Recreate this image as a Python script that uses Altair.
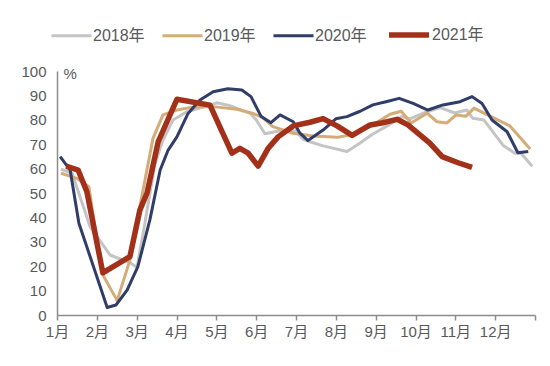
import altair as alt
import pandas as pd

years = ["2018年", "2019年", "2020年", "2021年"]
colors = ["#C4C4C4", "#D4AC78", "#2F3D68", "#A3311A"]
widths = [3, 3, 3, 5.5]
month_labels = ["1月", "2月", "3月", "4月", "5月", "6月", "7月", "8月", "9月", "10月", "11月", "12月"]

# x positions in months since 1 Jan (0 = 1月 tick), values in %
x2018 = [0.10, 0.38, 0.83, 1.33, 1.83, 2.01, 2.21, 2.46, 2.66, 2.91, 3.26, 3.84, 4.02, 4.34, 4.85, 5.00,
         5.22, 5.60, 5.98, 6.18, 6.35, 6.68, 7.28, 7.61, 7.91, 8.29, 8.64, 8.86, 9.24, 9.62, 9.99, 10.29,
         10.44, 10.72, 11.20, 11.50, 11.65, 11.93]
v2018 = [59.8, 58.1, 36.2, 24.6, 21.5, 19.5, 38.0, 62.0, 71.7, 79.9, 83.3, 86.0, 87.0, 85.8, 82.6, 80.0,
         74.3, 75.5, 75.5, 72.0, 71.0, 69.3, 67.0, 70.5, 74.0, 77.5, 81.3, 80.4, 83.0, 85.0, 82.8, 84.0,
         80.6, 79.9, 69.5, 66.3, 66.3, 61.0]

x2019 = [0.10, 0.50, 0.80, 1.13, 1.51, 1.83, 2.08, 2.41, 2.66, 3.01, 3.41, 3.92, 4.52, 4.92, 5.15, 5.42,
         5.93, 6.43, 7.03, 7.36, 7.86, 8.36, 8.64, 8.89, 9.29, 9.54, 9.79, 10.02, 10.27, 10.47, 10.87,
         11.37, 11.88]
v2019 = [58.1, 56.0, 52.6, 17.1, 5.9, 22.5, 44.4, 72.4, 82.0, 84.0, 85.2, 85.4, 84.3, 82.6, 81.0, 77.2,
         74.5, 73.4, 72.8, 73.8, 77.2, 82.3, 83.5, 78.7, 82.7, 79.2, 78.7, 82.0, 81.5, 84.8, 81.5,
         77.5, 68.0]

x2020 = [0.08, 0.33, 0.55, 1.26, 1.48, 1.76, 2.03, 2.33, 2.59, 2.79, 3.01, 3.29, 3.59, 3.92, 4.29, 4.64,
         4.87, 5.12, 5.37, 5.60, 5.93, 6.10, 6.30, 6.68, 7.00, 7.28, 7.61, 7.93, 8.26, 8.59, 8.94, 9.31,
         9.69, 10.12, 10.42, 10.67, 10.92, 11.30, 11.57, 11.83]
v2020 = [64.9, 59.4, 37.6, 3.1, 4.1, 10.2, 19.8, 38.9, 59.4, 67.6, 73.0, 82.6, 88.1, 91.5, 92.7, 92.2,
         89.5, 81.5, 78.8, 82.0, 79.2, 74.5, 71.5, 75.8, 80.4, 81.3, 83.5, 86.1, 87.4, 88.8, 86.7, 84.0,
         86.1, 87.4, 89.5, 86.7, 79.9, 75.1, 66.5, 67.0]

x2021 = [0.23, 0.53, 0.75, 1.15, 1.83, 2.08, 2.26, 2.54, 3.01, 3.84, 4.39, 4.59, 4.80, 5.05, 5.30, 5.55,
         5.93, 6.35, 6.68, 7.03, 7.41, 7.86, 8.18, 8.54, 8.81, 9.36, 9.67, 10.07, 10.42]
v2021 = [61.0, 59.4, 50.5, 17.3, 23.9, 43.0, 50.0, 71.0, 88.4, 86.0, 66.3, 68.3, 66.3, 61.0, 68.3, 73.0,
         77.5, 79.0, 80.5, 77.5, 73.6, 77.9, 78.8, 80.2, 77.9, 70.4, 64.9, 62.4, 60.5]

rows = []
for yr, xs, vs in zip(years, [x2018, x2019, x2020, x2021], [v2018, v2019, v2020, v2021]):
    for i, (x, v) in enumerate(zip(xs, vs)):
        rows.append({"year": yr, "m": x, "v": v, "i": i})
df = pd.DataFrame(rows)

FONT = "Liberation Sans, Arial, Noto Sans CJK SC"
TXT = "#595959"

label_expr = "datum.value < 12 ? " + str(month_labels) + "[datum.value] : ''"

legend_kw = dict(title=None, orient="none", direction="horizontal",
                 legendX=-7, legendY=-59, symbolType="stroke", symbolSize=1600,
                 labelFontSize=16, labelColor=TXT, labelFont=FONT, labelOffset=0,
                 columnPadding=11)

chart = alt.Chart(df).mark_line(strokeCap="butt", strokeJoin="round").encode(
    x=alt.X("m:Q",
            scale=alt.Scale(domain=[0, 12], nice=False, zero=False),
            axis=alt.Axis(values=list(range(13)), labelExpr=label_expr, title=None, grid=False,
                          domainColor="#8C8C8C", domainWidth=1.5, tickColor="#8C8C8C", tickWidth=1.5,
                          tickSize=5, labelPadding=4, labelFontSize=15, labelColor=TXT, labelFont=FONT,
                          labelFlush=False, labelOverlap=False)),
    y=alt.Y("v:Q",
            scale=alt.Scale(domain=[0, 100], nice=False),
            axis=alt.Axis(values=list(range(0, 101, 10)), title="%", grid=False, ticks=False,
                          domainColor="#8C8C8C", domainWidth=1.5, labelPadding=11, labelFontSize=15,
                          labelColor=TXT, labelFont=FONT, titleAngle=0, titleX=6, titleY=2,
                          titleAlign="left", titleBaseline="middle", titleFontSize=15,
                          titleFontWeight="normal", titleColor=TXT, titleFont=FONT)),
    color=alt.Color("year:N", scale=alt.Scale(domain=years, range=colors),
                    legend=alt.Legend(**legend_kw)),
    strokeWidth=alt.StrokeWidth("year:N", scale=alt.Scale(type="ordinal", domain=years, range=widths),
                                legend=alt.Legend(**legend_kw)),
    order=alt.Order("i:Q"),
).properties(
    width=478, height=244,
    autosize=alt.AutoSizeParams(type="none"),
    padding={"left": 49, "top": 63, "right": 7, "bottom": 40},
).configure_view(stroke=None)

chart.save("out.html", embed_options={"renderer": "svg", "actions": False})
